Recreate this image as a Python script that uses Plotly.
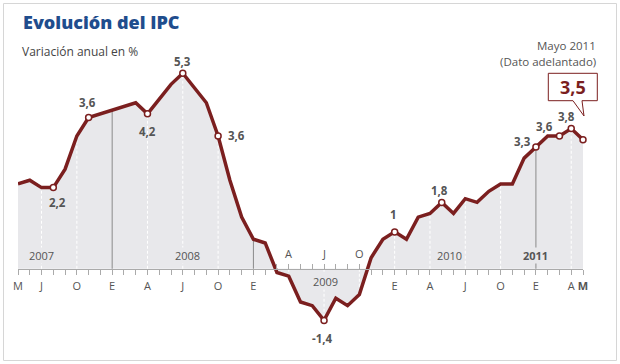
import plotly.graph_objects as go

# Monthly index: 0 = May 2007 ... 48 = May 2011
months = list(range(49))
ipc = [2.3, 2.4, 2.2, 2.2, 2.7, 3.6, 4.1, 4.2,
       4.3, 4.4, 4.5, 4.2, 4.6, 5.0, 5.3, 4.9, 4.5, 3.6, 2.4, 1.4,
       0.8, 0.7, -0.1, -0.2, -0.9, -1.0, -1.4, -0.8, -1.0, -0.7, 0.3, 0.8,
       1.0, 0.8, 1.4, 1.5, 1.8, 1.5, 1.9, 1.8, 2.1, 2.3, 2.3, 3.0,
       3.3, 3.6, 3.6, 3.8, 3.5]

# Month tick labels (below the axis)
tick_below_idx = [0, 2, 5, 8, 11, 14, 17, 20, 32, 35, 38, 41, 44, 47, 48]
tick_below_txt = ["M", "J", "O", "E", "A", "J", "O", "E", "E", "A", "J", "O", "E", "A", "<b>M</b>"]
# Month labels placed above the axis (2009, when the curve is negative)
tick_above_idx = [23, 26, 29]
tick_above_txt = ["A", "J", "O"]
# months whose ticks point upward
up_ticks = [22, 23, 24, 25, 26, 27, 28, 29]

years = ["2007", "2008", "2009", "2010", "2011"]
year_pos = [2, 14.4, 26.1, 36.7, 44]

marker_idx = [3, 6, 11, 14, 17, 26, 32, 36, 44, 46, 47, 48]
label_idx = [3, 6, 11, 14, 17, 26, 32, 36, 44, 45, 47]
label_txt = ["2,2", "3,6", "4,2", "5,3", "3,6", "-1,4", "1", "1,8", "3,3", "3,6", "3,8"]
label_off = [(4, -15), (-1, 15), (0, -18), (0, 12), (18, 0), (-2, -18), (-1, 17),
             (-2, 12), (-13, 6), (-3, 9), (-5, 12)]

solid_lines = [8, 20, 44]
dashed_lines = [2, 5, 11, 14, 17, 23, 26, 29, 32, 35, 38, 41, 47]

RED = "#7b1f1f"
FILL = "#e8e8eb"
GREY = "#555555"
FONT = "Open Sans"

W, H = 620, 364
ML, MR, MT, MB = 18, 37, 29, 3
PW, PH = W - ML - MR, H - MT - MB


def xp(px):
    return (px - ML) / PW


def yp(py):
    return (H - MB - py) / PH


fig = go.Figure()

# area fill
fig.add_trace(go.Scatter(x=months, y=ipc, mode="lines", line=dict(width=0, color=FILL),
                         fill="tozeroy", fillcolor=FILL, hoverinfo="skip"))

# vertical guide lines
def seg(idx):
    xs, ys = [], []
    for i in idx:
        xs += [i, i, None]
        ys += [0, ipc[i], None]
    return xs, ys

xs, ys = seg(dashed_lines)
fig.add_trace(go.Scatter(x=xs, y=ys, mode="lines", line=dict(color="white", width=1, dash="3px,2px"),
                         hoverinfo="skip"))
xs, ys = seg(solid_lines)
fig.add_trace(go.Scatter(x=xs, y=ys, mode="lines", line=dict(color="#8a8a8a", width=1),
                         hoverinfo="skip"))

# main line
fig.add_trace(go.Scatter(x=months, y=ipc, mode="lines", line=dict(color=RED, width=3.5),
                         hoverinfo="skip"))
# markers
fig.add_trace(go.Scatter(x=marker_idx, y=[ipc[i] for i in marker_idx], mode="markers",
                         marker=dict(size=6, color="white", line=dict(color=RED, width=1.5)),
                         cliponaxis=False, hoverinfo="skip"))

ann = []
for i, t, (dx, dy) in zip(label_idx, label_txt, label_off):
    ann.append(dict(x=i, y=ipc[i], xref="x", yref="y", text=f"<b>{t}</b>", showarrow=False,
                    xshift=dx, yshift=dy, font=dict(family=FONT, size=11.5, color=GREY)))

# year labels
for yr, pos in zip(years, year_pos):
    below = yr == "2009"
    txt = f"<b>{yr}</b>" if yr == "2011" else yr
    ann.append(dict(x=pos, y=0, xref="x", yref="y", text=txt, showarrow=False,
                    yshift=-13 if below else 13, bgcolor=FILL, borderpad=0,
                    font=dict(family=FONT, size=11, color=GREY)))
for i, t in zip(tick_above_idx, tick_above_txt):
    ann.append(dict(x=i, y=0, xref="x", yref="y", text=t, showarrow=False, yshift=15,
                    font=dict(family=FONT, size=11, color=GREY)))

# titles
ann.append(dict(x=xp(21), y=yp(22), xref="paper", yref="paper", text="Evolución del IPC",
                showarrow=False, xanchor="left", yanchor="middle",
                font=dict(family=FONT, size=18, color="#1f4d8d", weight=800)))
ann.append(dict(x=xp(20), y=yp(51), xref="paper", yref="paper", text="Variación anual en %",
                showarrow=False, xanchor="left", yanchor="middle",
                font=dict(family=FONT, size=12, color="#444444")))
ann.append(dict(x=xp(598), y=yp(45), xref="paper", yref="paper", text="Mayo 2011",
                showarrow=False, xanchor="right", yanchor="middle",
                font=dict(family=FONT, size=11.5, color=GREY)))
ann.append(dict(x=xp(598), y=yp(61.5), xref="paper", yref="paper", text="(Dato adelantado)",
                showarrow=False, xanchor="right", yanchor="middle",
                font=dict(family=FONT, size=11.5, color=GREY)))
ann.append(dict(x=xp(572.8), y=yp(87), xref="paper", yref="paper", text="<b>3,5</b>",
                showarrow=False, xanchor="center", yanchor="middle",
                font=dict(family=FONT, size=18, color=RED)))

pts = [(548.3, 73.3), (597.3, 73.3), (597.3, 100.7), (582, 100.7), (584, 116), (573, 100.7), (548.3, 100.7)]
path = "M " + " L ".join(f"{xp(a):.5f},{yp(b):.5f}" for a, b in pts) + " Z"

shapes = [
    dict(type="rect", xref="paper", yref="paper", x0=xp(3.5), x1=xp(616.5), y0=yp(360.5), y1=yp(3.5),
         line=dict(color="#d6d6d6", width=1), fillcolor="rgba(0,0,0,0)", layer="above"),
    dict(type="path", xref="paper", yref="paper", path=path, fillcolor="white",
         line=dict(color=RED, width=1)),
]

ymin, ymax = -2.5, 6.5
pos0 = (0 - ymin) / (ymax - ymin)

fig.update_layout(
    width=W, height=H, margin=dict(l=ML, r=MR, t=MT, b=MB),
    paper_bgcolor="white", plot_bgcolor="white", showlegend=False,
    annotations=ann, shapes=shapes,
    xaxis=dict(range=[0, 48], anchor="free", position=pos0, showgrid=False, zeroline=False,
               showline=True, linecolor="#aaaaaa", linewidth=1,
               tickvals=[i for i in months if i not in up_ticks],
               ticktext=[tick_below_txt[tick_below_idx.index(i)] if i in tick_below_idx else ""
                         for i in months if i not in up_ticks],
               ticks="outside", ticklen=5, tickcolor="#aaaaaa", tickwidth=1,
               tickfont=dict(family=FONT, size=11, color=GREY), ticklabelstandoff=2),
    xaxis2=dict(range=[0, 48], overlaying="x", anchor="free", position=pos0, showgrid=False,
                zeroline=False, showline=False, tickvals=up_ticks, ticktext=[""] * len(up_ticks),
                ticks="inside", ticklen=5, tickcolor="#aaaaaa", tickwidth=1),
    yaxis=dict(range=[ymin, ymax], visible=False, showgrid=False, zeroline=False),
)
# dummy trace to activate xaxis2
fig.add_trace(go.Scatter(x=[0], y=[0], xaxis="x2", mode="markers", marker=dict(opacity=0),
                         hoverinfo="skip"))

fig.write_html("out.html", config={"displayModeBar": False},
               post_script="document.body.style.margin='0';")
